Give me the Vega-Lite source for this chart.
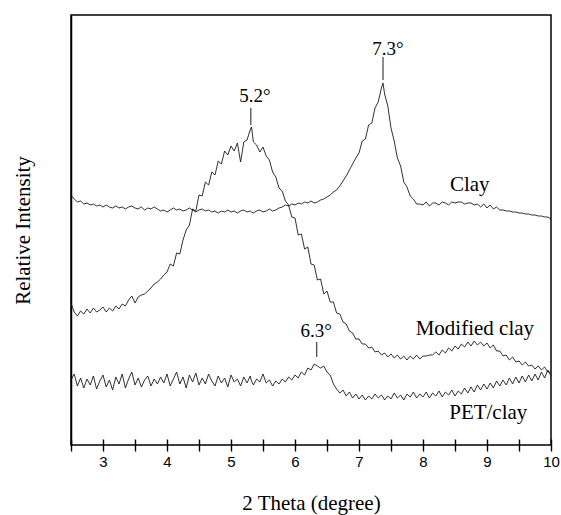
{
"$schema":"https://vega.github.io/schema/vega-lite/v6.json",
"width":480,"height":430,
"autosize":{"type":"none"},
"padding":{"left":71,"top":15,"right":10,"bottom":70},
"background":"white",
"config":{
 "view":{"stroke":"#000","strokeWidth":1.5},
 "font":"Liberation Serif",
 "axisBottom":{"domain":false,"grid":true,"gridColor":"#000","gridWidth":1.4,"gridOpacity":1,"gridDash":[0,424,6,1000],"tickColor":"#000","tickSize":6,"tickWidth":1.4,"labelFont":"Liberation Sans","labelFontSize":15,"labelColor":"#000","labelPadding":3,"labelFlush":false,"labelOverlap":false,"titleFont":"Liberation Serif","titleFontSize":21,"titleFontWeight":"normal","titleColor":"#000","titleBaseline":"alphabetic","titleY":64},
 "axisLeft":{"domain":true,"domainColor":"#000","domainWidth":1.5,"ticks":false,"labels":false,"grid":false,"titleFont":"Liberation Serif","titleFontSize":21,"titleFontWeight":"normal","titleColor":"#000","titlePadding":38}
},
"datasets":{
"xrd":[
{"t":2.5,"c":250,"m":142,"p":65},{"t":2.55,"c":246,"m":133,"p":71},{"t":2.6,"c":243,"m":129,"p":59},{"t":2.65,"c":244,"m":134,"p":67},{"t":2.7,"c":241,"m":131,"p":57},{"t":2.75,"c":242,"m":136,"p":66},{"t":2.8,"c":240,"m":132,"p":60},{"t":2.85,"c":241,"m":137,"p":69},{"t":2.9,"c":239,"m":133,"p":56},{"t":2.95,"c":240,"m":135,"p":64},
{"t":3.0,"c":238,"m":138,"p":70},{"t":3.05,"c":240,"m":133,"p":58},{"t":3.1,"c":238,"m":137,"p":65},{"t":3.15,"c":237,"m":134,"p":55},{"t":3.2,"c":239,"m":139,"p":68},{"t":3.25,"c":237,"m":136,"p":61},{"t":3.3,"c":238,"m":141,"p":71},{"t":3.35,"c":236,"m":139,"p":57},{"t":3.4,"c":238,"m":145,"p":66},{"t":3.45,"c":239,"m":149,"p":73},
{"t":3.5,"c":237,"m":142,"p":60},{"t":3.55,"c":236,"m":148,"p":67},{"t":3.6,"c":238,"m":150,"p":58},{"t":3.65,"c":235,"m":151,"p":65},{"t":3.7,"c":237,"m":154,"p":69},{"t":3.75,"c":236,"m":157,"p":59},{"t":3.8,"c":238,"m":161,"p":66},{"t":3.85,"c":236,"m":163,"p":61},{"t":3.9,"c":234,"m":166,"p":68},{"t":3.95,"c":235,"m":170,"p":62},
{"t":4.0,"c":233,"m":173,"p":71},{"t":4.05,"c":235,"m":181,"p":59},{"t":4.1,"c":237,"m":179,"p":66},{"t":4.15,"c":235,"m":192,"p":73},{"t":4.2,"c":236,"m":191,"p":61},{"t":4.25,"c":234,"m":205,"p":68},{"t":4.3,"c":235,"m":215,"p":57},{"t":4.35,"c":237,"m":220,"p":70},{"t":4.4,"c":235,"m":236,"p":63},{"t":4.45,"c":233,"m":234,"p":72},
{"t":4.5,"c":235,"m":250,"p":60},{"t":4.55,"c":236,"m":249,"p":67},{"t":4.6,"c":234,"m":263,"p":61},{"t":4.65,"c":235,"m":260,"p":71},{"t":4.7,"c":233,"m":273,"p":64},{"t":4.75,"c":234,"m":270,"p":59},{"t":4.8,"c":232,"m":284,"p":69},{"t":4.85,"c":234,"m":281,"p":62},{"t":4.9,"c":233,"m":294,"p":67},{"t":4.95,"c":235,"m":290,"p":58},
{"t":5.0,"c":233,"m":299,"p":70},{"t":5.05,"c":234,"m":294,"p":63},{"t":5.1,"c":232,"m":302,"p":66},{"t":5.15,"c":234,"m":283,"p":59},{"t":5.2,"c":235,"m":303,"p":68},{"t":5.25,"c":233,"m":305,"p":62},{"t":5.3,"c":234,"m":315,"p":69},{"t":5.32,"c":233,"m":318,"p":64},{"t":5.35,"c":232,"m":303,"p":60},{"t":5.4,"c":234,"m":300,"p":66},{"t":5.45,"c":235,"m":293,"p":63},
{"t":5.5,"c":233,"m":298,"p":71},{"t":5.55,"c":234,"m":289,"p":62},{"t":5.6,"c":236,"m":285,"p":65},{"t":5.65,"c":234,"m":273,"p":59},{"t":5.7,"c":235,"m":268,"p":64},{"t":5.75,"c":237,"m":257,"p":61},{"t":5.8,"c":238,"m":254,"p":66},{"t":5.85,"c":240,"m":244,"p":63},{"t":5.9,"c":239,"m":240,"p":68},{"t":5.95,"c":241,"m":228,"p":65},
{"t":6.0,"c":240,"m":227,"p":70},{"t":6.05,"c":242,"m":210,"p":67},{"t":6.1,"c":241,"m":211,"p":73},{"t":6.15,"c":243,"m":196,"p":70},{"t":6.2,"c":242,"m":198,"p":77},{"t":6.25,"c":244,"m":181,"p":75},{"t":6.3,"c":242,"m":180,"p":81},{"t":6.35,"c":243,"m":165,"p":79},{"t":6.4,"c":245,"m":166,"p":77},{"t":6.45,"c":246,"m":151,"p":79},
{"t":6.5,"c":248,"m":154,"p":73},{"t":6.55,"c":250,"m":143,"p":70},{"t":6.6,"c":253,"m":143,"p":61},{"t":6.65,"c":255,"m":132,"p":56},{"t":6.7,"c":259,"m":131,"p":52},{"t":6.75,"c":264,"m":123,"p":55},{"t":6.8,"c":269,"m":121,"p":49},{"t":6.85,"c":275,"m":114,"p":53},{"t":6.9,"c":281,"m":112,"p":47},{"t":6.95,"c":287,"m":106,"p":51},
{"t":7.0,"c":292,"m":106,"p":46},{"t":7.05,"c":304,"m":101,"p":50},{"t":7.1,"c":306,"m":101,"p":45},{"t":7.15,"c":320,"m":97,"p":49},{"t":7.2,"c":322,"m":98,"p":46},{"t":7.25,"c":337,"m":93,"p":51},{"t":7.3,"c":343,"m":94,"p":47},{"t":7.35,"c":357,"m":90,"p":50},{"t":7.375,"c":362,"m":91,"p":48},{"t":7.4,"c":351,"m":92,"p":45},{"t":7.45,"c":339,"m":88,"p":49},
{"t":7.5,"c":317,"m":91,"p":46},{"t":7.55,"c":304,"m":87,"p":52},{"t":7.6,"c":287,"m":90,"p":47},{"t":7.65,"c":279,"m":86,"p":50},{"t":7.7,"c":263,"m":89,"p":45},{"t":7.75,"c":258,"m":85,"p":51},{"t":7.8,"c":249,"m":89,"p":48},{"t":7.85,"c":246,"m":86,"p":53},{"t":7.9,"c":241,"m":90,"p":47},{"t":7.95,"c":241,"m":86,"p":51},
{"t":8.0,"c":240,"m":89,"p":48},{"t":8.05,"c":243,"m":89,"p":53},{"t":8.1,"c":239,"m":90,"p":47},{"t":8.15,"c":242,"m":90,"p":52},{"t":8.2,"c":242,"m":93,"p":49},{"t":8.25,"c":240,"m":90,"p":54},{"t":8.3,"c":243,"m":95,"p":48},{"t":8.35,"c":242,"m":92,"p":53},{"t":8.4,"c":240,"m":97,"p":50},{"t":8.45,"c":243,"m":94,"p":55},
{"t":8.5,"c":242,"m":99,"p":49},{"t":8.55,"c":243,"m":96,"p":54},{"t":8.6,"c":243,"m":101,"p":51},{"t":8.65,"c":241,"m":98,"p":57},{"t":8.7,"c":242,"m":103,"p":52},{"t":8.75,"c":242,"m":99,"p":58},{"t":8.8,"c":240,"m":104,"p":53},{"t":8.85,"c":241,"m":100,"p":60},{"t":8.9,"c":238,"m":103,"p":55},{"t":8.95,"c":241,"m":99,"p":61},
{"t":9.0,"c":237,"m":102,"p":56},{"t":9.05,"c":240,"m":97,"p":62},{"t":9.1,"c":236,"m":100,"p":57},{"t":9.15,"c":238,"m":94,"p":64},{"t":9.2,"c":235,"m":94,"p":59},{"t":9.25,"c":235,"m":89,"p":65},{"t":9.3,"c":234,"m":90,"p":60},{"t":9.35,"c":234,"m":85,"p":67},{"t":9.4,"c":233,"m":88,"p":61},{"t":9.45,"c":233,"m":83,"p":68},
{"t":9.5,"c":232,"m":84,"p":62},{"t":9.55,"c":232,"m":80,"p":69},{"t":9.6,"c":231,"m":83,"p":63},{"t":9.65,"c":231,"m":79,"p":70},{"t":9.7,"c":230,"m":80,"p":64},{"t":9.75,"c":230,"m":76,"p":71},{"t":9.8,"c":229,"m":79,"p":65},{"t":9.85,"c":229,"m":75,"p":73},{"t":9.9,"c":228,"m":78,"p":67},{"t":9.95,"c":228,"m":73,"p":75},
{"t":10.0,"c":226,"m":73,"p":69}
],
"names":[
{"t":8.73,"v":254,"label":"Clay"},
{"t":8.81,"v":110,"label":"Modified clay"},
{"t":9.02,"v":26,"label":"PET/clay"}
],
"peaks":[
{"t":5.375,"v":343,"label":"5.2°"},
{"t":7.45,"v":390,"label":"7.3°"},
{"t":6.33,"v":108,"label":"6.3°"}
],
"marks":[
{"t":5.31,"v":320,"v2":337},
{"t":7.375,"v":365,"v2":388},
{"t":6.34,"v":88,"v2":103}
]
},
"encoding":{
 "x":{"field":"t","type":"quantitative","scale":{"domain":[2.5,10],"nice":false,"zero":false},
  "axis":{"values":[2.5,3,3.5,4,4.5,5,5.5,6,6.5,7,7.5,8,8.5,9,9.5,10],"format":"~g","labelExpr":"datum.value % 1 === 0 ? datum.label : ''","title":"2 Theta (degree)"}},
 "y":{"field":"v","type":"quantitative","scale":{"domain":[0,430],"nice":false,"zero":false},
  "axis":{"title":"Relative Intensity"}}
},
"layer":[
{"data":{"name":"xrd"},
 "transform":[{"fold":["c","m","p"],"as":["s","v"]}],
 "mark":{"type":"line","stroke":"#1a1a1a","strokeWidth":0.9},
 "encoding":{"detail":{"field":"s","type":"nominal"}}
},
{"data":{"name":"marks"},
 "mark":{"type":"rule","stroke":"#1a1a1a","strokeWidth":1},
 "encoding":{"y2":{"field":"v2"}}
},
{"data":{"name":"peaks"},
 "mark":{"type":"text","font":"Liberation Serif","fontSize":19,"align":"center","baseline":"alphabetic","color":"#000"},
 "encoding":{"text":{"field":"label"}}
},
{"data":{"name":"names"},
 "mark":{"type":"text","font":"Liberation Serif","fontSize":21,"align":"center","baseline":"alphabetic","color":"#000"},
 "encoding":{"text":{"field":"label"}}
}
]
}
